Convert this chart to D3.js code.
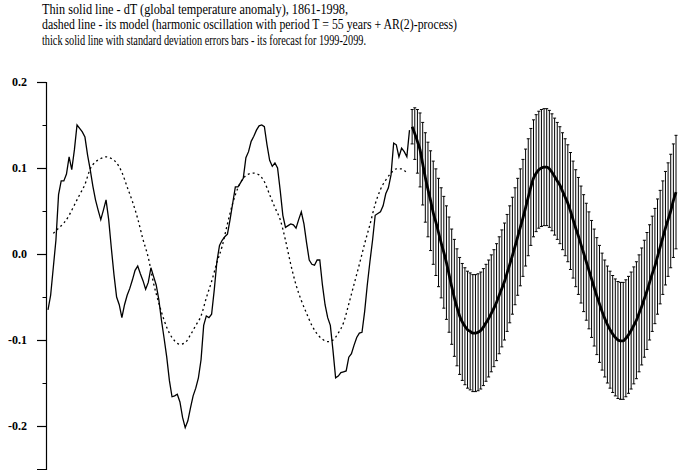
<!DOCTYPE html>
<html>
<head>
<meta charset="utf-8">
<script src="https://cdn.jsdelivr.net/npm/d3@7.9.0/dist/d3.min.js"></script>
<style>
  body { margin: 0; background: #fff; }
  svg { display: block; }
</style>
</head>
<body>
<svg width="699" height="475"></svg>
<script>
// title lines and their measured widths in the picture
const titleLines = [
  'Thin solid line - dT (global temperature anomaly), 1861-1998,',
  'dashed line - its model (harmonic oscillation with period T = 55 years + AR(2)-process)',
  'thick solid line with standard deviation errors bars - its forecast for 1999-2099.'
];
const titleWidths = [306, 415, 324];

const yTicks = [-0.2, -0.1, 0.0, 0.1, 0.2];
const yMinorTicks = [-0.15, -0.05, 0.05, 0.15];

// observed dT, one value a year from 1861 to 1998
const obsStart = 1861;
const obsValues = [
  -0.065, -0.048, -0.016, 0.016, 0.069, 0.085, 0.085, 0.093, 0.113, 0.098,
  0.121, 0.150, 0.146, 0.142, 0.136, 0.115, 0.098, 0.079, 0.063, 0.051,
  0.040, 0.051, 0.063, 0.040, 0.007, -0.024, -0.050, -0.059, -0.074, -0.059,
  -0.048, -0.040, -0.030, -0.019, -0.014, -0.023, -0.031, -0.041, -0.033, -0.016,
  -0.026, -0.036, -0.053, -0.077, -0.098, -0.120, -0.147, -0.166, -0.165, -0.163,
  -0.172, -0.190, -0.202, -0.194, -0.179, -0.165, -0.156, -0.144, -0.123, -0.083,
  -0.072, -0.074, -0.070, -0.042, -0.009, 0.010, 0.016, 0.020, 0.023, 0.040,
  0.059, 0.078, 0.078, 0.083, 0.088, 0.112, 0.119, 0.131, 0.137, 0.144,
  0.149, 0.150, 0.148, 0.127, 0.109, 0.102, 0.106, 0.100, 0.074, 0.045,
  0.031, 0.033, 0.035, 0.034, 0.030, 0.040, 0.049, 0.035, 0.013, -0.007,
  -0.012, -0.013, -0.007, -0.007, -0.036, -0.059, -0.074, -0.083, -0.112, -0.144,
  -0.142, -0.138, -0.137, -0.136, -0.120, -0.116, -0.106, -0.097, -0.092, -0.091,
  -0.067, -0.036, -0.009, 0.016, 0.045, 0.047, 0.049, 0.056, 0.070, 0.077,
  0.092, 0.129, 0.127, 0.113, 0.123, 0.119, 0.113, 0.144
];

// model (dashed), read every second year
const modelYears = [
  1863, 1865, 1867, 1869, 1871, 1873, 1875, 1877, 1879, 1881,
  1883, 1885, 1887, 1889, 1891, 1893, 1895, 1897, 1899, 1901,
  1903, 1905, 1907, 1909, 1911, 1913, 1915, 1917, 1919, 1921,
  1923, 1925, 1927, 1929, 1931, 1933, 1935, 1937, 1939, 1941,
  1943, 1945, 1947, 1949, 1951, 1953, 1955, 1957, 1959, 1961,
  1963, 1965, 1967, 1969, 1971, 1973, 1975, 1977, 1979, 1981,
  1983, 1985, 1987, 1989, 1991, 1993, 1995, 1997
];
const modelValues = [
  0.024, 0.030, 0.036, 0.045, 0.057, 0.069, 0.081, 0.099, 0.107, 0.111,
  0.113, 0.111, 0.106, 0.095, 0.078, 0.061, 0.041, 0.017, -0.004, -0.034,
  -0.057, -0.077, -0.092, -0.101, -0.105, -0.103, -0.094, -0.083, -0.072, -0.051,
  -0.032, -0.010, 0.009, 0.035, 0.059, 0.077, 0.088, 0.093, 0.094, 0.092,
  0.084, 0.069, 0.054, 0.040, 0.016, -0.012, -0.036, -0.054, -0.069, -0.083,
  -0.093, -0.099, -0.102, -0.100, -0.092, -0.080, -0.058, -0.035, -0.012, 0.012,
  0.034, 0.058, 0.075, 0.086, 0.094, 0.099, 0.099, 0.094
];

// forecast 1999-2099, one value a year, with its standard deviation
const fcStart = 1999;
const fcValues = [
  0.148, 0.140, 0.131, 0.121, 0.105, 0.089, 0.075, 0.062, 0.048, 0.037,
  0.025, 0.013, 0.002, -0.010, -0.024, -0.038, -0.051, -0.062, -0.072, -0.079,
  -0.084, -0.088, -0.090, -0.092, -0.092, -0.091, -0.089, -0.085, -0.080, -0.075,
  -0.069, -0.063, -0.056, -0.048, -0.040, -0.032, -0.022, -0.012, -0.002, 0.009,
  0.020, 0.031, 0.042, 0.054, 0.066, 0.078, 0.088, 0.094, 0.098, 0.100,
  0.101, 0.101, 0.099, 0.095, 0.090, 0.085, 0.080, 0.073, 0.066, 0.059,
  0.050, 0.040, 0.030, 0.021, 0.011, 0.001, -0.009, -0.019, -0.029, -0.039,
  -0.049, -0.058, -0.067, -0.075, -0.082, -0.088, -0.093, -0.097, -0.100, -0.101,
  -0.101, -0.098, -0.094, -0.089, -0.083, -0.077, -0.069, -0.061, -0.052, -0.043,
  -0.033, -0.023, -0.014, -0.003, 0.008, 0.019, 0.030, 0.040, 0.050, 0.062,
  0.072
];
const fcStd = [
  0.020, 0.030, 0.037, 0.043, 0.048, 0.052, 0.055, 0.058, 0.060, 0.062,
  0.063, 0.064, 0.065, 0.066, 0.067, 0.067, 0.068, 0.068, 0.068, 0.068,
  0.068, 0.068, 0.068, 0.068, 0.068, 0.068, 0.068, 0.068, 0.068, 0.068,
  0.068, 0.068, 0.068, 0.068, 0.068, 0.068, 0.068, 0.068, 0.068, 0.068,
  0.068, 0.068, 0.068, 0.068, 0.068, 0.068, 0.068, 0.068, 0.068, 0.068,
  0.068, 0.068, 0.068, 0.068, 0.068, 0.068, 0.068, 0.068, 0.068, 0.068,
  0.068, 0.068, 0.068, 0.068, 0.068, 0.068, 0.068, 0.068, 0.068, 0.068,
  0.068, 0.068, 0.068, 0.068, 0.068, 0.068, 0.068, 0.068, 0.068, 0.068,
  0.068, 0.068, 0.068, 0.068, 0.068, 0.068, 0.068, 0.068, 0.068, 0.068,
  0.067, 0.067, 0.067, 0.067, 0.066, 0.066, 0.066, 0.066, 0.066, 0.066,
  0.066
];

const svg = d3.select('svg');

svg.selectAll('text.title')
  .data(titleLines)
  .join('text')
  .attr('class', 'title')
  .attr('x', 42)
  .attr('y', (d, i) => 13.5 + i * 15.5)
  .attr('textLength', (d, i) => titleWidths[i])
  .attr('lengthAdjust', 'spacingAndGlyphs')
  .style('font-family', '"Liberation Serif", "Times New Roman", serif')
  .style('font-size', '15px')
  .text(d => d);

let x = d3.scaleLinear().domain([1861, 2099]).range([48, 676]);
let y = d3.scaleLinear().domain([-0.25, 0.2]).range([469, 82]);

// y axis
let axis = svg.append('g')
  .attr('transform', 'translate(46,0)')
  .call(d3.axisLeft(y)
    .tickValues(yTicks)
    .tickSize(9)
    .tickSizeOuter(9)
    .tickPadding(10)
    .tickFormat(d => d.toFixed(1)));
axis.selectAll('text')
  .style('font-family', '"Liberation Serif", serif')
  .style('font-weight', 'bold')
  .style('font-size', '12px')
  .attr('fill', '#000');
axis.selectAll('path, line').attr('stroke', '#000').attr('stroke-width', 1.2);

svg.append('g')
  .selectAll('line')
  .data(yMinorTicks)
  .join('line')
  .attr('x1', 42.5).attr('x2', 46)
  .attr('y1', d => Math.round(y(d)) + 0.5)
  .attr('y2', d => Math.round(y(d)) + 0.5)
  .attr('stroke', '#000');

// model, dashed
let modelData = modelYears.map((yr, i) => ({ year: yr, value: modelValues[i] }));
svg.append('path')
  .datum(modelData)
  .attr('fill', 'none')
  .attr('stroke', '#000')
  .attr('stroke-width', 1.3)
  .attr('stroke-dasharray', '2,3')
  .attr('d', d3.line().x(d => x(d.year)).y(d => y(d.value)).curve(d3.curveMonotoneX));

// observed, thin solid
let obsData = obsValues.map((v, i) => ({ year: obsStart + i, value: v }));
svg.append('path')
  .datum(obsData)
  .attr('fill', 'none')
  .attr('stroke', '#000')
  .attr('stroke-width', 1.3)
  .attr('d', d3.line().x(d => x(d.year)).y(d => y(d.value)));

// forecast error bars
let fcData = fcValues.map((v, i) => ({ year: fcStart + i, value: v, sd: fcStd[i] }));
let bars = svg.append('g').attr('stroke', '#000').attr('stroke-width', 1);
bars.selectAll('line.bar')
  .data(fcData)
  .join('line')
  .attr('class', 'bar')
  .attr('x1', d => x(d.year)).attr('x2', d => x(d.year))
  .attr('y1', d => y(d.value + d.sd))
  .attr('y2', d => y(d.value - d.sd));
bars.selectAll('line.capTop')
  .data(fcData)
  .join('line')
  .attr('class', 'capTop')
  .attr('x1', d => x(d.year) - 1.5).attr('x2', d => x(d.year) + 1.5)
  .attr('y1', d => y(d.value + d.sd)).attr('y2', d => y(d.value + d.sd));
bars.selectAll('line.capBot')
  .data(fcData)
  .join('line')
  .attr('class', 'capBot')
  .attr('x1', d => x(d.year) - 1.5).attr('x2', d => x(d.year) + 1.5)
  .attr('y1', d => y(d.value - d.sd)).attr('y2', d => y(d.value - d.sd));

// forecast, thick solid
svg.append('path')
  .datum(fcData)
  .attr('fill', 'none')
  .attr('stroke', '#000')
  .attr('stroke-width', 2.8)
  .attr('d', d3.line().x(d => x(d.year)).y(d => y(d.value)).curve(d3.curveMonotoneX));
</script>
</body>
</html>
